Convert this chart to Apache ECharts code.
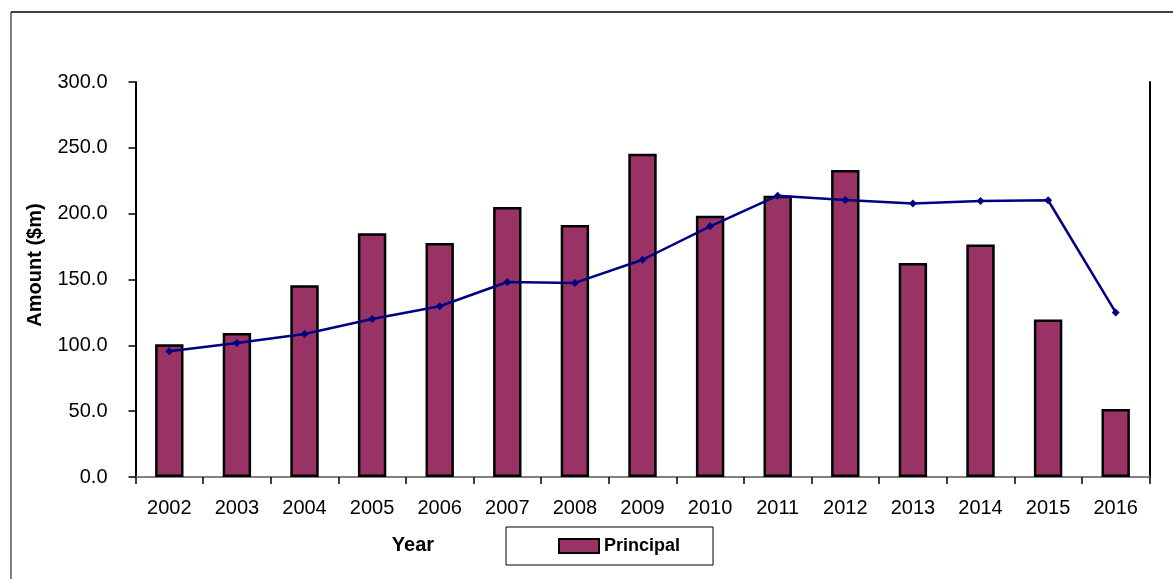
<!DOCTYPE html>
<html>
<head>
<meta charset="utf-8">
<script src="https://cdn.jsdelivr.net/npm/echarts@6/dist/echarts.min.js"></script>
<style>
  html, body { margin: 0; padding: 0; background: #fff; }
  #chart { width: 1173px; height: 579px; }
</style>
</head>
<body>
<div id="chart"></div>
<script>
// Annual principal amounts ($m) with the trend line values
const years = ['2002', '2003', '2004', '2005', '2006', '2007', '2008', '2009',
               '2010', '2011', '2012', '2013', '2014', '2015', '2016'];
const principal = [100.8, 109.4, 145.6, 185.1, 177.7, 205.1, 191.4, 245.6,
                   198.5, 213.7, 233.2, 162.6, 176.5, 119.6, 51.7];
const trend = [95.5, 101.8, 108.6, 120.0, 129.7, 148.1, 147.4, 165.0,
               190.4, 213.7, 210.4, 207.7, 209.6, 210.2, 125.0];
const yTicks = { min: 0, max: 300, interval: 50 };

const FONT = '"Liberation Sans", Arial, sans-serif';

const chart = echarts.init(document.getElementById('chart'));
chart.setOption({
  backgroundColor: '#ffffff',
  animation: false,
  grid: { left: 135.5, right: 23.5, top: 82, bottom: 102, containLabel: false },
  legend: {
    data: ['Principal'],
    left: 506,
    top: 527,
    padding: [10, 33, 10, 52],
    borderColor: '#000',
    borderWidth: 1,
    icon: 'rect',
    itemWidth: 40,
    itemHeight: 14,
    itemGap: 10,
    textStyle: { fontFamily: FONT, fontSize: 18, fontWeight: 'bold', color: '#000' }
  },
  xAxis: [
    {
      type: 'category',
      data: years,
      boundaryGap: true,
      axisLine: { lineStyle: { color: '#000', width: 2 } },
      axisTick: { show: true, inside: false, length: 7, alignWithLabel: false,
                  lineStyle: { color: '#000', width: 1.5 } },
      axisLabel: { color: '#000', fontFamily: FONT, fontSize: 20, margin: 21, interval: 0 },
      splitLine: { show: false }
    },
    {
      type: 'category',
      data: years,
      position: 'top',
      axisLine: { lineStyle: { color: '#808080', width: 2 } },
      axisTick: { show: false },
      axisLabel: { show: false },
      splitLine: { show: false }
    }
  ],
  yAxis: [
    {
      type: 'value',
      min: yTicks.min,
      max: yTicks.max,
      interval: yTicks.interval,
      axisLine: { show: true, lineStyle: { color: '#000', width: 2 } },
      axisTick: { show: true, inside: false, length: 7, lineStyle: { color: '#000', width: 1.5 } },
      axisLabel: {
        color: '#000', fontFamily: FONT, fontSize: 20, margin: 28,
        formatter: v => v.toFixed(1)
      },
      splitLine: { show: false }
    },
    {
      type: 'value',
      min: yTicks.min,
      max: yTicks.max,
      interval: yTicks.interval,
      position: 'right',
      axisLine: { show: true, lineStyle: { color: '#000', width: 2 } },
      axisTick: { show: false },
      axisLabel: { show: false },
      splitLine: { show: false }
    }
  ],
  series: [
    {
      name: 'Principal',
      type: 'bar',
      data: principal,
      barWidth: '42%',
      itemStyle: { color: '#993366', borderColor: '#000', borderWidth: 2.5 }
    },
    {
      name: 'Trend',
      type: 'line',
      data: trend,
      symbol: 'diamond',
      symbolSize: 8,
      showSymbol: true,
      lineStyle: { color: '#000080', width: 2.5 },
      itemStyle: { color: '#000080' },
      z: 5
    }
  ],
  graphic: [
    { type: 'line', shape: { x1: 11, y1: 12, x2: 11, y2: 579 },
      style: { stroke: '#808080', lineWidth: 2 } },
    { type: 'line', shape: { x1: 11, y1: 12, x2: 1173, y2: 12 },
      style: { stroke: '#000', lineWidth: 1.5 } },
    { type: 'text', x: 35, y: 265, rotation: Math.PI / 2,
      style: { text: 'Amount ($m)', fontFamily: FONT, fontSize: 20, fontWeight: 'bold',
               fill: '#000', textAlign: 'center', textVerticalAlign: 'middle' } },
    { type: 'text', x: 413, y: 545,
      style: { text: 'Year', fontFamily: FONT, fontSize: 20, fontWeight: 'bold',
               fill: '#000', textAlign: 'center', textVerticalAlign: 'middle' } }
  ]
});
</script>
</body>
</html>
